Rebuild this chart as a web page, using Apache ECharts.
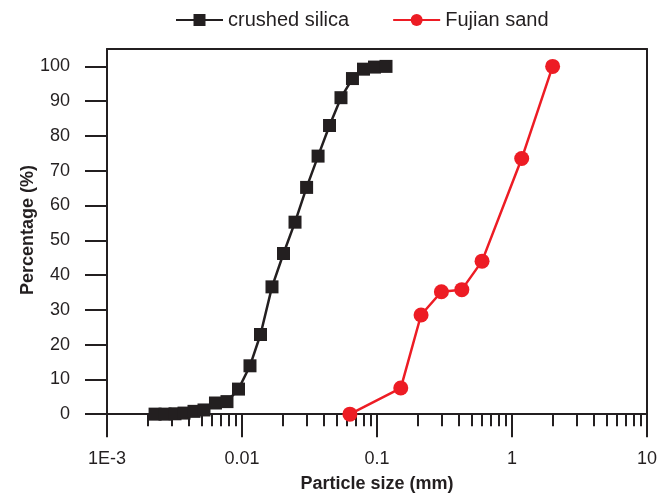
<!DOCTYPE html>
<html>
<head>
<meta charset="utf-8">
<script src="https://cdn.jsdelivr.net/npm/echarts@6/dist/echarts.min.js"></script>
<style>
html,body{margin:0;padding:0;background:#fff;}
#chart{width:670px;height:494px;}
</style>
</head>
<body>
<div id="chart"></div>
<script>
// Crushed silica: particle size (mm) and passing percentage
var silicaSize = [0.00227, 0.00269, 0.00319, 0.00372, 0.00441, 0.00523, 0.00636, 0.00774, 0.00942, 0.01146, 0.01371, 0.01668, 0.0203, 0.0247, 0.0301, 0.0366, 0.0445, 0.0541, 0.0658, 0.0794, 0.0958, 0.1166];
var silicaPct  = [0.0, 0.0, 0.1, 0.3, 0.8, 1.2, 3.2, 3.6, 7.2, 13.9, 22.9, 36.6, 46.2, 55.2, 65.2, 74.2, 83.0, 91.0, 96.5, 99.2, 99.8, 100.0];
// Fujian sand: sieve size (mm) and passing percentage
var sandSize = [0.063, 0.15, 0.212, 0.3, 0.425, 0.6, 1.18, 2.0];
var sandPct  = [0.0, 7.5, 28.5, 35.2, 35.8, 44.0, 73.5, 100.0];
// Axis tick labels
var yTicks = [0, 10, 20, 30, 40, 50, 60, 70, 80, 90, 100];
var xMajorLabels = {"-3": "1E-3", "-2": "0.01", "-1": "0.1", "0": "1", "1": "10"};
var xMinorTicks = [0.002,0.003,0.004,0.005,0.006,0.007,0.008,0.009,
                   0.02,0.03,0.04,0.05,0.06,0.07,0.08,0.09,
                   0.2,0.3,0.4,0.5,0.6,0.7,0.8,0.9,
                   2,3,4,5,6,7,8,9];
var seriesNames = ["crushed silica", "Fujian sand"];

function pairs(xs, ys) { return xs.map(function (x, i) { return [x, ys[i]]; }); }

var FONT = "Liberation Sans, Arial, Helvetica, sans-serif";
var BLACK = "#231f20";
var RED = "#ed1c24";

var chart = echarts.init(document.getElementById('chart'));
chart.setOption({
  animation: false,
  backgroundColor: '#fff',
  textStyle: { fontFamily: FONT },
  legend: {
    top: 5, left: 170,
    itemWidth: 47, itemHeight: 15, itemGap: 43,
    textStyle: { fontSize: 20, color: BLACK, fontFamily: FONT },
    data: seriesNames
  },
  grid: { left: 107, right: 23, top: 49, bottom: 59, containLabel: false, outerBoundsMode: 'none' },
  xAxis: [
    {
      type: 'log', logBase: 10, min: 0.001, max: 10, position: 'bottom',
      axisLine: { show: true, onZero: true, onZeroAxisIndex: 0, lineStyle: { color: BLACK, width: 2 } },
      axisTick: { show: true, inside: false, length: 23, lineStyle: { color: BLACK, width: 2 } },
      axisLabel: {
        fontSize: 18, color: BLACK, margin: 15, fontFamily: FONT,
        formatter: function (v) {
          var k = String(Math.round(Math.log10(v)));
          return xMajorLabels[k] !== undefined ? xMajorLabels[k] : '';
        }
      },
      splitLine: { show: false },
      name: 'Particle size (mm)', nameLocation: 'middle', nameGap: 40, nameMoveOverlap: false,
      nameTextStyle: { fontSize: 18, fontWeight: 'bold', color: BLACK, fontFamily: FONT }
    },
    {
      type: 'log', logBase: 10, min: 0.001, max: 10, position: 'bottom',
      axisLine: { show: false, onZero: true, onZeroAxisIndex: 0 },
      axisTick: { show: true, inside: false, length: 12, customValues: xMinorTicks, lineStyle: { color: BLACK, width: 2 } },
      axisLabel: { show: false },
      splitLine: { show: false }
    },
    {
      type: 'log', logBase: 10, min: 0.001, max: 10, position: 'top',
      axisLine: { show: true, onZero: false, lineStyle: { color: BLACK, width: 2 } },
      axisTick: { show: false }, axisLabel: { show: false }, splitLine: { show: false }
    }
  ],
  yAxis: [
    {
      type: 'value', min: -6, max: 105, position: 'left',
      axisLine: { show: true, onZero: false, lineStyle: { color: BLACK, width: 2 } },
      axisTick: { show: true, inside: false, length: 22, customValues: yTicks, lineStyle: { color: BLACK, width: 2 } },
      axisLabel: { fontSize: 18, color: BLACK, margin: 37, customValues: yTicks, fontFamily: FONT },
      splitLine: { show: false },
      name: 'Percentage (%)', nameLocation: 'middle', nameGap: 70, nameMoveOverlap: false,
      nameTextStyle: { fontSize: 18, fontWeight: 'bold', color: BLACK, fontFamily: FONT, padding: [0, 0, 0, 24] }
    },
    {
      type: 'value', min: -6, max: 105, position: 'right',
      axisLine: { show: true, onZero: false, lineStyle: { color: BLACK, width: 2 } },
      axisTick: { show: false }, axisLabel: { show: false }, splitLine: { show: false }
    }
  ],
  series: [
    {
      name: seriesNames[0], type: 'line', xAxisIndex: 0, yAxisIndex: 0,
      data: pairs(silicaSize, silicaPct),
      symbol: 'rect', symbolSize: 13,
      lineStyle: { color: BLACK, width: 2.5 },
      itemStyle: { color: BLACK },
      z: 3
    },
    {
      name: seriesNames[1], type: 'line', xAxisIndex: 0, yAxisIndex: 0,
      data: pairs(sandSize, sandPct),
      symbol: 'circle', symbolSize: 15,
      lineStyle: { color: RED, width: 2.5 },
      itemStyle: { color: RED },
      z: 3
    }
  ]
});
</script>
</body>
</html>
